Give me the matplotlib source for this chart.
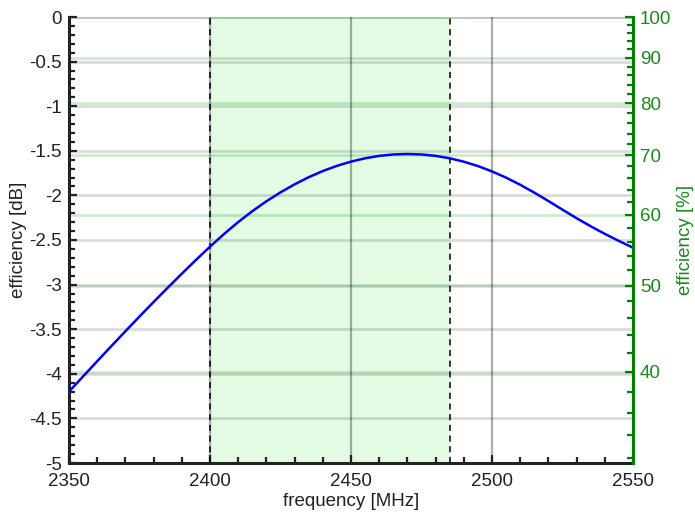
"""Antenna efficiency vs frequency with dB and percent axes."""

import numpy as np
import matplotlib
import matplotlib.pyplot as plt
from matplotlib.ticker import FixedLocator, MultipleLocator

matplotlib.use("Agg")

plt.rcParams.update({
    "font.family": ["Liberation Sans", "DejaVu Sans"],
    "font.size": 13.5,
})

# measured efficiency (dB) vs frequency (MHz), 5 MHz steps
freq_mhz = list(range(2350, 2551, 5))
eff_db = [-4.200, -4.029, -3.859, -3.690, -3.523, -3.358, -3.195, -3.035, -2.878, -2.724,
          -2.575, -2.432, -2.299, -2.177, -2.066, -1.966, -1.876, -1.796, -1.727, -1.669,
          -1.621, -1.584, -1.557, -1.541, -1.536, -1.541, -1.557, -1.584, -1.622, -1.671,
          -1.731, -1.801, -1.881, -1.969, -2.063, -2.160, -2.256, -2.346, -2.431, -2.511,
          -2.586]

band_lo, band_hi = 2400, 2485
pct_major = [40, 50, 60, 70, 80, 90, 100]
pct_minor = [p for p in range(32, 100, 2) if p % 10]

GREEN = "#008000"
GREEN_TXT = "#1a8a1a"
DARK = "#222222"


def pct_to_db(p):
    return 10 * np.log10(np.asarray(p, dtype=float) / 100.0)


fig, ax = plt.subplots(figsize=(6.95, 5.19), dpi=100)
fig.subplots_adjust(left=69 / 695, right=633 / 695, top=1 - 17 / 519, bottom=1 - 463 / 519)

ax.set_xlim(2350, 2550)
ax.set_ylim(-5, 0)

# ISM band shading, with the grid drawn semi-transparent on top of it
ax.axvspan(band_lo, band_hi, color="#e2fbe2", lw=0, zorder=0)
for y in np.arange(-4.5, 0.01, 0.5):
    ax.axhline(y, color="black", alpha=0.14, lw=2.0, zorder=1)
for y in pct_to_db(pct_major):
    ax.axhline(y, color=GREEN, alpha=0.18, lw=2.0, zorder=1)
for x in (2400, 2450, 2500):
    ax.axvline(x, color="black", alpha=0.32, lw=1.6, zorder=1)
for x in (band_lo, band_hi):
    ax.axvline(x, color="black", lw=1.1, ls=(0, (4, 3)), zorder=3)

ax.plot(freq_mhz, eff_db, color="#0000ff", lw=1.8, zorder=4)

ax.xaxis.set_major_locator(MultipleLocator(50))
ax.xaxis.set_minor_locator(MultipleLocator(10))
ax.yaxis.set_major_locator(MultipleLocator(0.5))
ax.yaxis.set_minor_locator(MultipleLocator(0.1))
ax.yaxis.set_major_formatter(lambda v, pos: f"{v:g}")
ax.tick_params(which="both", direction="in", colors=DARK, width=1.6, labelcolor=DARK)
ax.tick_params(which="major", length=6)
ax.tick_params(which="minor", length=4)
ax.tick_params(axis="x", pad=7)
ax.tick_params(axis="y", pad=5)
for side in ("left", "bottom"):
    ax.spines[side].set_linewidth(2.2)
    ax.spines[side].set_color(DARK)
ax.spines["top"].set_visible(False)
ax.spines["right"].set_visible(False)
ax.set_xlabel("frequency [MHz]", color=DARK, labelpad=2)
ax.set_ylabel("efficiency [dB]", color=DARK, labelpad=2)

# percent axis sharing the dB scale
ax2 = ax.twinx()
ax2.set_ylim(-5, 0)
ax2.yaxis.set_major_locator(FixedLocator(pct_to_db(pct_major)))
ax2.yaxis.set_minor_locator(FixedLocator(pct_to_db(pct_minor)))
ax2.set_yticklabels([str(p) for p in pct_major])
ax2.tick_params(which="both", direction="in", colors=GREEN, width=1.6,
                labelcolor=GREEN_TXT, pad=5)
ax2.tick_params(which="major", length=6)
ax2.tick_params(which="minor", length=4)
for side in ("left", "bottom", "top"):
    ax2.spines[side].set_visible(False)
ax2.spines["right"].set_color(GREEN)
ax2.spines["right"].set_linewidth(2.2)
ax2.set_ylabel("efficiency [%]", color=GREEN_TXT, labelpad=4)

fig.savefig("out.png", dpi=100)
